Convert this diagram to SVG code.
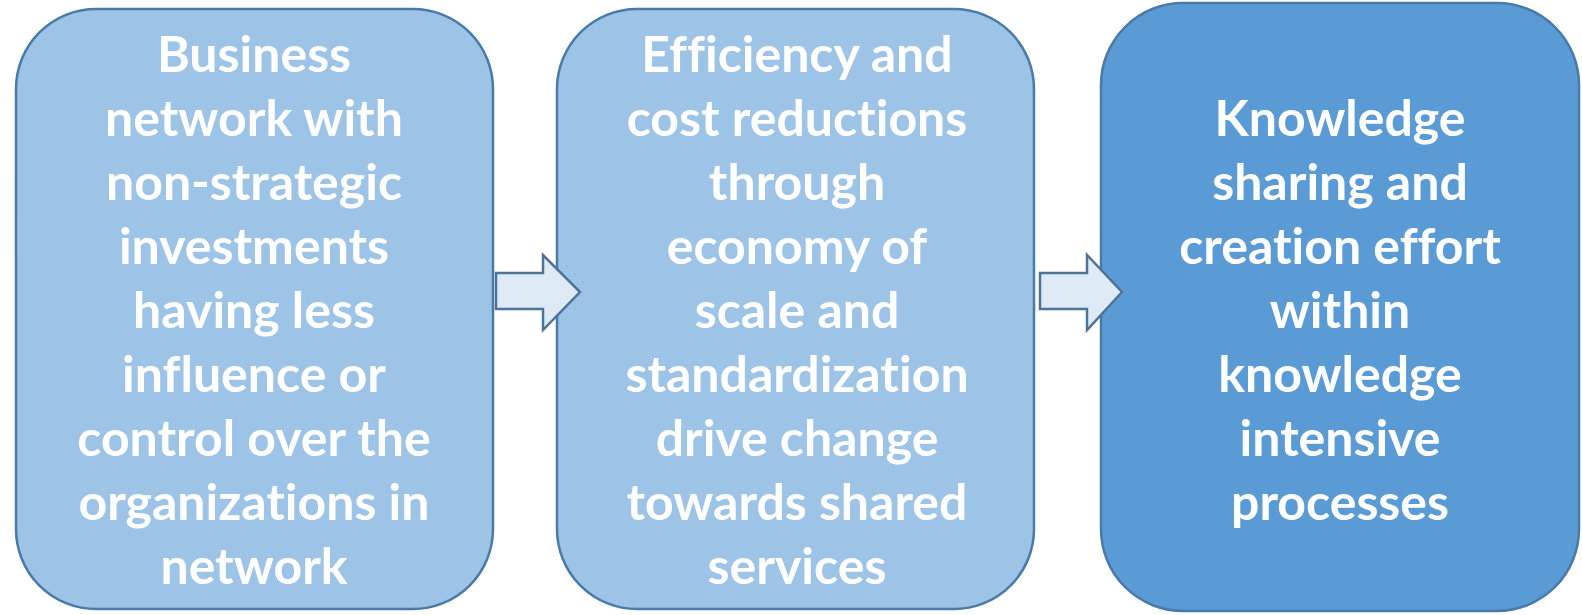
<svg xmlns="http://www.w3.org/2000/svg" width="1582" height="615" viewBox="0 0 1582 615">
<style>
.box{stroke:#4a7aa8;stroke-width:2.5}
.light{fill:#9dc3e6}
.dark{fill:#5b9bd5}
.arrow{fill:#deebf7;stroke:#4f7396;stroke-width:2.5;stroke-linejoin:miter}
text{font-family:Lato,"Open Sans","Liberation Sans",sans-serif;font-weight:bold;font-size:50px;fill:#ffffff;text-anchor:middle;font-variant-ligatures:none;font-feature-settings:"liga" 0,"dlig" 0}
</style>
<rect width="1582" height="615" fill="#ffffff"/>
<g id="node1">
<rect class="box light" x="16" y="9" width="477" height="600" rx="80" ry="80"/>
<text x="254" y="72">Business</text>
<text x="254" y="136">network with</text>
<text x="254" y="200">non-strategic</text>
<text x="254" y="264">investments</text>
<text x="254" y="328">having less</text>
<text x="254" y="392">influence or</text>
<text x="254" y="456">control over the</text>
<text x="254" y="520">organizations in</text>
<text x="254" y="584">network</text>
</g>
<g id="node2">
<rect class="box light" x="557" y="9" width="477" height="600" rx="80" ry="80"/>
<text x="797" y="72">Efficiency and</text>
<text x="797" y="136">cost reductions</text>
<text x="797" y="200">through</text>
<text x="797" y="264">economy of</text>
<text x="797" y="328">scale and</text>
<text x="797" y="392">standardization</text>
<text x="797" y="456">drive change</text>
<text x="797" y="520">towards shared</text>
<text x="797" y="584">services</text>
</g>
<g id="node3">
<rect class="box dark" x="1101" y="3" width="478" height="608" rx="82" ry="82"/>
<text x="1340" y="136">Knowledge</text>
<text x="1340" y="200">sharing and</text>
<text x="1340" y="264">creation effort</text>
<text x="1340" y="328">within</text>
<text x="1340" y="392">knowledge</text>
<text x="1340" y="456">intensive</text>
<text x="1340" y="520">processes</text>
</g>
<g id="connectors">
<path class="arrow" d="M496 273 H543 V255 L580 292 L543 330 V309 H496 Z"/>
<path class="arrow" d="M1040 273 H1087 V255 L1122 292 L1087 330 V309 H1040 Z"/>
</g>
</svg>
